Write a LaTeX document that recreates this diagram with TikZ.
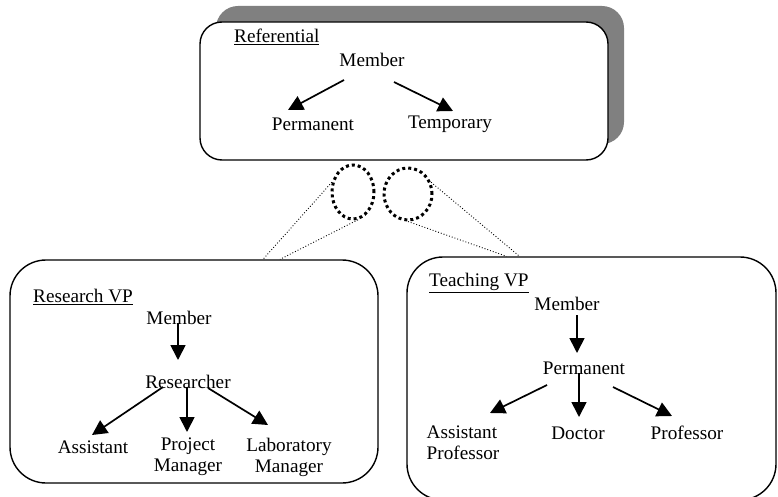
\documentclass[tikz,border=0pt]{standalone}
\usepackage{fontspec}
\setmainfont{Liberation Serif}
\usetikzlibrary{arrows.meta,shapes.geometric,shadows}

\tikzset{
    lbl/.style={inner sep=1pt, font=\fontsize{19.2}{21}\selectfont},
    panel/.style={draw, line width=1.4pt, fill=white, rounded corners=#1, inner sep=0pt},
    isa/.style={line width=1.7pt, -{Triangle[length=15pt,width=15pt]}},
    lens/.style={ellipse, draw, line width=3pt, dash pattern=on 3pt off 3pt, inner sep=0pt},
    link/.style={dotted, line width=0.9pt}
}

\begin{document}
\begin{tikzpicture}[x=1pt,y=-1pt]
            {
    \def\refw{408}
    \def\refh{138}
    \def\resw{368}
    \def\resh{223}
    \def\teaw{369}
    \def\teah{243}

    \useasboundingbox (0,0) rectangle (778,497);

    % the three viewpoints
    \node[panel=22pt, minimum width=\refw pt, minimum height=\refh pt,
          drop shadow={shadow xshift=16pt, shadow yshift=16pt, fill=black!50, opacity=1}]
          (refbox) at (404,91) {};
    \node[panel=36pt, minimum width=\resw pt, minimum height=\resh pt] (resbox) at (194,371.5) {};
    \node[panel=36pt, minimum width=\teaw pt, minimum height=\teah pt] (teabox) at (591.5,378.5) {};

    % referential
    \node[lbl, anchor=west] (reftitle) at (233,37) {\underline{Referential}};
    \node[lbl] (mem) at (372,60) {Member};
    \node[lbl] (perm) at (313,124) {Permanent};
    \node[lbl] (temp) at (450,124) {Temporary};
    \draw[isa] ([shift={(-28,20)}]mem.center) -- ([shift={(-25,-14)}]perm.center);
    \draw[isa] ([shift={(22,22)}]mem.center) -- ([shift={(3,-13)}]temp.center);

    % research VP
    \node[lbl, anchor=west] (restitle) at (32,297) {\underline{Research VP}};
    \node[lbl] (rmem) at (179,318) {Member};
    \node[lbl] (rres) at (188,382) {Researcher};
    \node[lbl] (rass) at (93,447) {Assistant};
    \node[lbl, align=center] (rpm) at (188,457) {Project\\Manager};
    \node[lbl, align=center] (rlab) at (289,457) {Laboratory\\Manager};
    \draw[isa] ([shift={(-1,5)}]rmem.center) -- ([shift={(-10,-22)}]rres.center);
    \draw[isa] ([shift={(-25,5)}]rres.center) -- ([shift={(-1,-12)}]rass.center);
    \draw[isa] ([shift={(-1,5)}]rres.center) -- ([shift={(-1,-25)}]rpm.center);
    \draw[isa] ([shift={(20,6)}]rres.center) -- ([shift={(-21,-32)}]rlab.center);

    % teaching VP
    \node[lbl, anchor=west] (teatitle) at (428,283) {\underline{Teaching VP}};
    \node[lbl] (tmem) at (567,304) {Member};
    \node[lbl] (tperm) at (584,368) {Permanent};
    \node[lbl, align=left] (tass) at (463,443) {Assistant\\Professor};
    \node[lbl] (tdoc) at (578,433) {Doctor};
    \node[lbl] (tprof) at (687,433) {Professor};
    \draw[isa] ([shift={(10,11)}]tmem.center) -- ([shift={(-7,-15)}]tperm.center);
    \draw[isa] ([shift={(-37,17)}]tperm.center) -- ([shift={(27,-30)}]tass.center);
    \draw[isa] ([shift={(-5,5)}]tperm.center) -- ([shift={(1,-16)}]tdoc.center);
    \draw[isa] ([shift={(29,19)}]tperm.center) -- ([shift={(-15,-17)}]tprof.center);

    % projections
    \node[lens, minimum width=42pt, minimum height=54pt] (lensa) at (353,192) {};
    \node[lens, minimum width=48pt, minimum height=52pt] (lensb) at (408,194) {};
    \draw[link] (lensa.155) -- ([xshift=69pt]resbox.north);
    \draw[link] (lensa.-80) -- ([xshift=86pt]resbox.north);
    \draw[link] (lensb.27) -- ([xshift=-72pt]teabox.north);
    \draw[link] (lensb.-90) -- ([xshift=-85pt]teabox.north);
}
\end{tikzpicture}
\end{document}
